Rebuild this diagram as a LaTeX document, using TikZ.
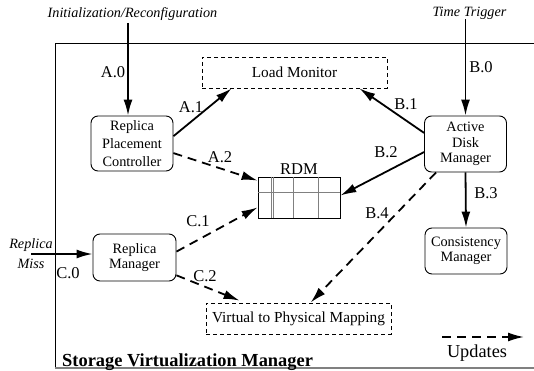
\documentclass[tikz,border=0pt]{standalone}
\usepackage{fontspec}
\setmainfont{Liberation Serif}
\usetikzlibrary{arrows.meta,calc}

\begin{document}
\begin{tikzpicture}[x=1pt,y=-1pt,
  boite/.style={draw,line width=0.9pt,rounded corners=7pt,minimum width=82pt,inner sep=0pt,align=center,font=\fontsize{14.3}{15.5}\selectfont},
  zone/.style={draw,line width=0.8pt,dash pattern=on 4pt off 3pt,minimum width=185pt,minimum height=31pt,inner sep=0pt,font=\fontsize{15.3}{18}\selectfont},
  fleche/.style={line width=1.8pt,-{Latex[length=16pt,width=9pt]}},
  maj/.style={fleche,dash pattern=on 9pt off 6pt},
  etiq/.style={inner sep=0pt,font=\fontsize{16.5}{18}\selectfont},
  dehors/.style={inner sep=0pt,align=center,font=\itshape\fontsize{14.2}{20}\selectfont}]
\useasboundingbox (0,0) rectangle (534,371); % la page
\draw[line width=0.9pt] (534,43)--(55,43)--(55,368); % le cadre
\draw[color=gray,line width=2pt] (55,368)--(534,368);
% les boites
\node[boite,minimum height=55pt,font=\fontsize{14.3}{18}\selectfont] (rpc) at (132,143.5) {Replica\\Placement\\Controller};
\node[boite,minimum height=56pt] (adm) at (465.5,144) {Active\\Disk\\Manager};
\node[boite,minimum height=46pt] (cm) at (466,251) {Consistency\\Manager};
\node[boite,minimum height=47pt,minimum width=83pt] (rm) at (134.5,257.5) {Replica\\Manager};
\node[zone] (lm) at (294.5,72.5) {Load Monitor};
\node[zone] (vpm) at (298.5,318.5) {Virtual to Physical Mapping};
\node[draw,line width=0.8pt,minimum width=82pt,minimum height=41pt,inner sep=0pt,
  label={[etiq,inner sep=1.5pt]above:RDM}] (rdm) at (299,197.5) {};
\draw[color=gray,line width=0.8pt] ($(rdm.north west)+(0,16)$)--($(rdm.north east)+(0,16)$);
\foreach \dx in {14,16,36,61}
  \draw[color=gray,line width=0.8pt] ($(rdm.north west)+(\dx,0)$)--($(rdm.south west)+(\dx,0)$);
% les entrees
\node[dehors] (init) at (132.5,14) {Initialization/Reconfiguration};
\node[dehors] (trig) at (469.5,13) {Time Trigger};
\node[dehors] (miss) at (31,254) {Replica\\Miss};
\coordinate (a0) at (128,23);
% les fleches
\draw[fleche] (a0)--(a0 |- rpc.north);
\draw[fleche] (rpc.10)--([xshift=30pt]lm.south west);
\draw[maj] (rpc.-13)--([yshift=-4pt]rdm.north west);
\draw[fleche] (trig.south -| adm.north)--(adm.north);
\draw[fleche] (adm.165)--([xshift=-28pt]lm.south east);
\draw[fleche] (adm.-169)--([yshift=2pt]rdm.east);
\draw[fleche] (adm.south)--(cm.north);
\draw[maj] ([xshift=12pt]adm.south west)--([xshift=105pt]vpm.north west);
\draw[fleche] (miss.center)--(miss.center -| rm.west);
\draw[maj] (rm.8)--([yshift=11pt]rdm.south west);
\draw[maj] (rm.-23)--([xshift=34pt,yshift=2pt]vpm.north west);
% les etiquettes
\node[etiq] (la0) at (113,72) {A.0};
\node[etiq] (la1) at (191,107) {A.1};
\node[etiq] (la2) at (220,157) {A.2};
\node[etiq] (lb0) at (481,67) {B.0};
\node[etiq] (lb1) at (406,104) {B.1};
\node[etiq] (lb2) at (386,152) {B.2};
\node[etiq] (lb3) at (486,193) {B.3};
\node[etiq] (lb4) at (377,213) {B.4};
\node[etiq] (lc0) at (68,273) {C.0};
\node[etiq] (lc1) at (198,221) {C.1};
\node[etiq] (lc2) at (205,276) {C.2};
% titre et legende
\node[anchor=base west,inner sep=0pt,font=\bfseries\fontsize{18.4}{22}\selectfont] (titre) at (62,366) {Storage Virtualization Manager};
\coordinate (leg1) at (442,337);
\coordinate (leg2) at (524,337);
\draw[maj] (leg1)--(leg2);
\node[inner sep=0pt,font=\fontsize{18.3}{22}\selectfont] (upd) at (477,353) {Updates};
\end{tikzpicture}
\end{document}
